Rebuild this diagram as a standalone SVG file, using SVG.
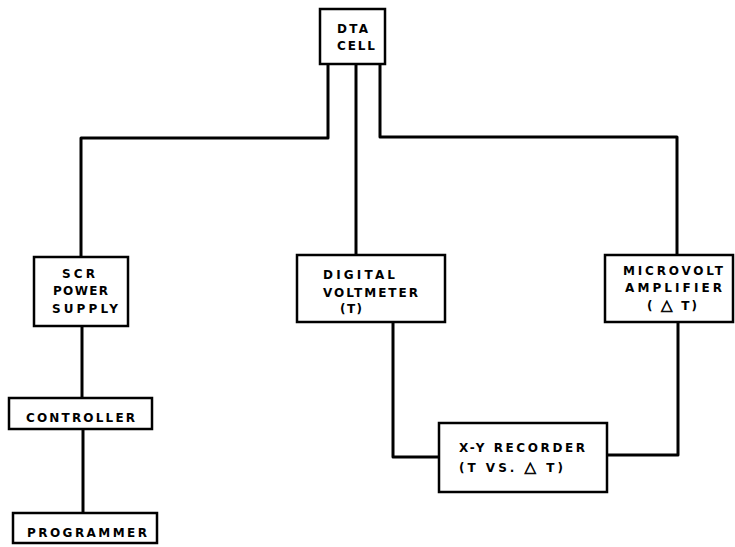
<svg xmlns="http://www.w3.org/2000/svg" width="735" height="547" viewBox="0 0 735 547">
<style>
.box{fill:#fff;stroke:#000;stroke-width:2.5}
.ln{fill:none;stroke:#000;stroke-width:3;stroke-linejoin:round}
text{font-family:"DejaVu Sans","Liberation Sans",sans-serif;font-weight:bold;font-size:12px;fill:#000}
.tri{font-size:15px;stroke:#000;stroke-width:0.6}
</style>
<rect width="735" height="547" fill="#fff"/>
<g id="connectors">
<path class="ln" d="M328,64 V138 H81 V257"/>
<path class="ln" d="M356,64 V255"/>
<path class="ln" d="M380,64 V137 H677 V255"/>
<path class="ln" d="M82,326 V398"/>
<path class="ln" d="M83,429 V513"/>
<path class="ln" d="M393,322 V457 H439"/>
<path class="ln" d="M678,322 V455 H607"/>
</g>
<g id="dta">
<rect class="box" x="320" y="9" width="65" height="55"/>
<text x="337" y="33" textLength="31" lengthAdjust="spacing">DTA</text>
<text x="337" y="50" textLength="38" lengthAdjust="spacing">CELL</text>
</g>
<g id="scr">
<rect class="box" x="34" y="257" width="94" height="69"/>
<text x="62" y="278" textLength="33" lengthAdjust="spacing">SCR</text>
<text x="53" y="295" textLength="55" lengthAdjust="spacing">POWER</text>
<text x="52" y="313" textLength="66" lengthAdjust="spacing">SUPPLY</text>
</g>
<g id="dvm">
<rect class="box" x="297" y="255" width="148" height="67"/>
<text x="323" y="279" textLength="72" lengthAdjust="spacing">DIGITAL</text>
<text x="323" y="297" textLength="95" lengthAdjust="spacing">VOLTMETER</text>
<text x="340" y="313" textLength="22" lengthAdjust="spacing">(T)</text>
</g>
<g id="microvolt">
<rect class="box" x="605" y="255" width="128" height="67"/>
<text x="623" y="275" textLength="100" lengthAdjust="spacing">MICROVOLT</text>
<text x="625" y="292" textLength="97" lengthAdjust="spacing">AMPLIFIER</text>
<text x="647" y="310" textLength="50" lengthAdjust="spacing">( <tspan class="tri">△</tspan> T)</text>
</g>
<g id="controller">
<rect class="box" x="9" y="398" width="143" height="31"/>
<text x="26" y="422" textLength="109" lengthAdjust="spacing">CONTROLLER</text>
</g>
<g id="programmer">
<rect class="box" x="13" y="513" width="144" height="30"/>
<text x="27" y="537" textLength="120" lengthAdjust="spacing">PROGRAMMER</text>
</g>
<g id="xy">
<rect class="box" x="439" y="423" width="168" height="69"/>
<text x="459" y="452" textLength="126" lengthAdjust="spacing">X-Y RECORDER</text>
<text x="459" y="472" textLength="104" lengthAdjust="spacing">(T VS. <tspan class="tri">△</tspan> T)</text>
</g>
</svg>
